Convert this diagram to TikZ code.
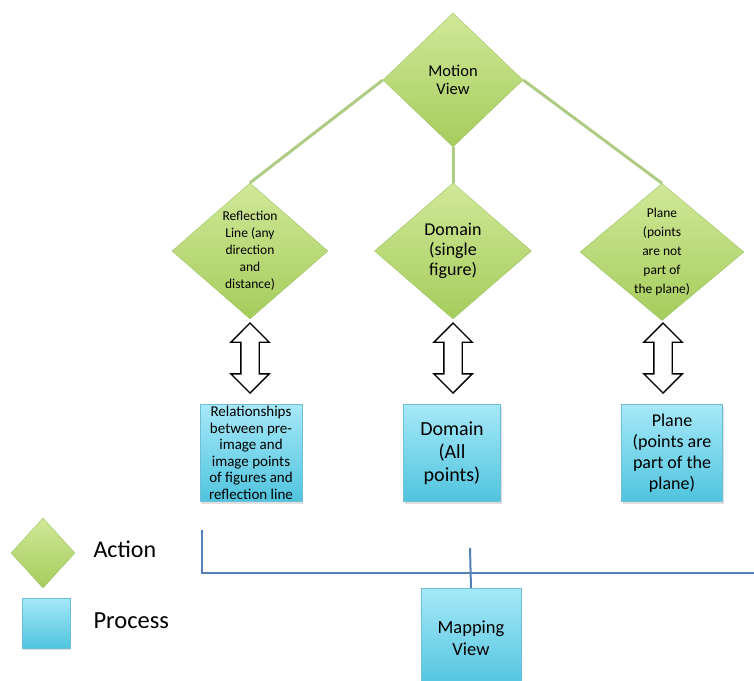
\documentclass[tikz,border=0pt]{standalone}
\usepackage{fontspec}
\setmainfont{Carlito}
\usepackage{tikz}
\usetikzlibrary{shapes.geometric,shapes.arrows}
\usetikzlibrary{shadows}
\usetikzlibrary{positioning}
\definecolor{acttop}{RGB}{208,232,152}
\definecolor{actbot}{RGB}{166,204,92}
\definecolor{actline}{RGB}{158,196,100}
\definecolor{proctop}{RGB}{166,232,248}
\definecolor{procbot}{RGB}{80,196,222}
\definecolor{procline}{RGB}{110,190,214}
\definecolor{treeline}{RGB}{176,204,132}
\definecolor{mapline}{RGB}{84,128,186}
\tikzset{
  act_d/.style = {diamond, aspect=1.2, inner sep=0pt, align=center,
    draw=actline, top color=acttop, bottom color=actbot,
    minimum width=156pt, minimum height=136pt},% action, diamond
  proc_b/.style = {rectangle, inner sep=0pt, align=center,
    draw=procline, top color=proctop, bottom color=procbot,
    drop shadow={opacity=0.25, shadow xshift=1pt, shadow yshift=-2pt}},% process, box
  dbl_a/.style = {double arrow, rotate=90, draw=black, fill=white,
    line width=1.4pt, inner xsep=0pt, inner ysep=8.5pt, minimum height=70pt,
    double arrow head extend=10pt},% two way arrow
  txt_s/.style = {font=\fontsize{13.5}{17}\selectfont},
  txt_m/.style = {font=\fontsize{16.5}{18}\selectfont},
  txt_l/.style = {font=\fontsize{18.5}{21.5}\selectfont}
}
\begin{document}
\begin{tikzpicture}[x=1pt,y=-1pt]
\useasboundingbox (0,0) rectangle (754,680);
\clip (0,0) rectangle (754,680);
% actions
\node [act_d, txt_m, minimum width=140pt, minimum height=134pt] (mv) at (453,80) {Motion\\View};
\node [act_d, txt_s] (rl) at (250,251) {Reflection\\Line (any\\direction\\and\\distance)};
\node [act_d, font=\fontsize{18}{20}\selectfont, minimum width=157pt] (dm) at (453,251) {Domain\\(single\\figure)};
\node [act_d, font=\fontsize{13.5}{19}\selectfont, minimum width=164pt, minimum height=137pt] (pl) at (662,252) {Plane\\(points\\are not\\part of\\the plane)};
\draw [draw=treeline, line width=3pt] (mv.west) -- (rl.north);
\draw [draw=treeline, line width=3pt] (mv.south) -- (dm.north);
\draw [draw=treeline, line width=3pt] (mv.east) -- (pl.north);
% two way arrows
\node [dbl_a] (a1) at (250,358) {};
\node [dbl_a] (a2) at (453,358) {};
\node [dbl_a] (a3) at (663,358) {};
% processes
\node [proc_b, font=\fontsize{15}{16.5}\selectfont, minimum width=102pt, minimum height=97pt] (rp) at (251,453) {Relationships\\between pre-\\image and\\image points\\of figures and\\reflection line};
\node [proc_b, font=\fontsize{20}{23}\selectfont, minimum width=97pt, minimum height=97pt] (dp) at (452,453) {Domain\\(All\\points)};
\node [proc_b, font=\fontsize{18}{21}\selectfont, minimum width=101pt, minimum height=97pt] (pp) at (672,453) {Plane\\(points are\\part of the\\plane)};
\node [proc_b, txt_l, minimum width=100pt, minimum height=100pt] (map) at (471,638) {Mapping\\View};
\coordinate (bl) at (202,530);
\coordinate (br) at (756,573);
\coordinate (bm) at (470,548);
\draw [draw=mapline, line width=2pt] (bl) |- (br);
\draw [draw=mapline, line width=2pt] (bm) -- (map.north);
% legend
\node [act_d, minimum width=64pt, minimum height=70pt] (la) at (43,553) {};
\node [proc_b, minimum width=48pt, minimum height=50pt] (lp) at (46,623) {};
\node [anchor=west, font=\fontsize{24}{28}\selectfont] (ta) at (90,549) {Action};
\node [anchor=west, font=\fontsize{24.5}{28}\selectfont] (tp) at (90,621) {Process};
\end{tikzpicture}
\end{document}
